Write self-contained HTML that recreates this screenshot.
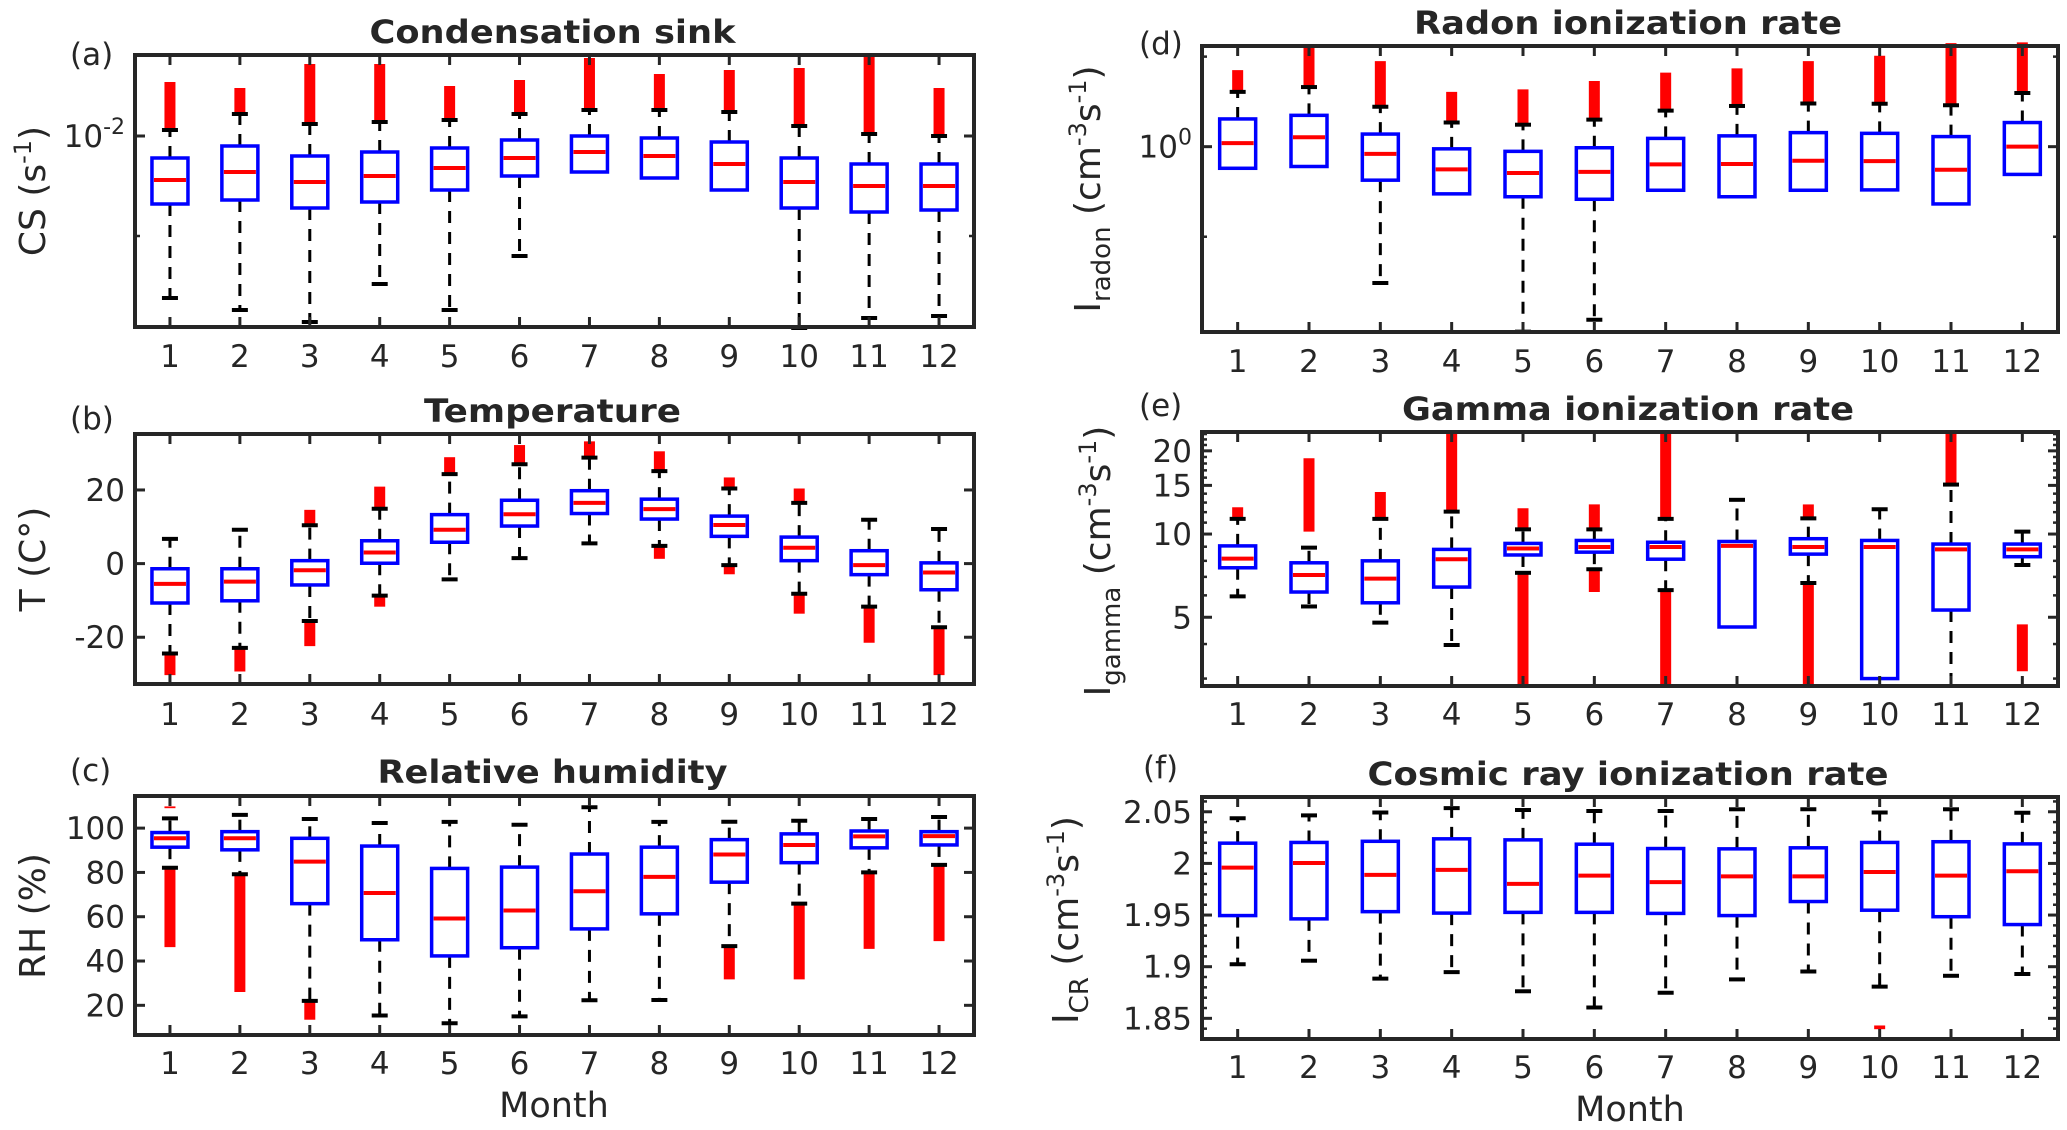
<!DOCTYPE html>
<html><head><meta charset="utf-8"><style>
html,body{margin:0;padding:0;background:#fff;}
svg{display:block;}
text{font-family:"DejaVu Sans","Liberation Sans",sans-serif;fill:#262626;}
</style></head>
<body>
<svg id="fig" width="2067" height="1130" viewBox="0 0 2067 1130" xmlns="http://www.w3.org/2000/svg"></svg>
<script>
const months = [1,2,3,4,5,6,7,8,9,10,11,12];
// (a) Condensation sink, log10(CS)
const csLo  = [-2.81,-2.87,-2.93,-2.74,-2.87,-2.60,-2.18,-2.21,-2.27,-2.96,-2.91,-2.90];
const csQ1  = [-2.34,-2.32,-2.36,-2.33,-2.27,-2.20,-2.18,-2.21,-2.27,-2.36,-2.38,-2.37];
const csMed = [-2.22,-2.18,-2.23,-2.20,-2.16,-2.11,-2.08,-2.10,-2.14,-2.23,-2.25,-2.25];
const csQ3  = [-2.11,-2.05,-2.10,-2.08,-2.06,-2.02,-2.00,-2.01,-2.03,-2.11,-2.14,-2.14];
const csHi  = [-1.97,-1.89,-1.94,-1.93,-1.92,-1.89,-1.87,-1.87,-1.88,-1.95,-1.99,-2.00];
const csOutHi = [[-1.97,-1.73],[-1.89,-1.76],[-1.94,-1.64],[-1.93,-1.64],[-1.92,-1.75],[-1.89,-1.72],[-1.87,-1.61],[-1.87,-1.69],[-1.88,-1.67],[-1.95,-1.66],[-1.99,-1.59],[-2.00,-1.76]];
const csOutLo = [null,null,null,null,null,null,null,null,null,null,null,null];
// (b) Temperature
const tLo  = [-24.4,-22.9,-15.6,-8.7,-4.3,1.5,5.5,4.8,-0.4,-8.2,-11.7,-17.3];
const tQ1  = [-10.7,-10.1,-5.8,0.1,5.8,10.2,13.6,12.1,7.4,0.8,-3.0,-7.1];
const tMed = [-5.5,-4.9,-1.8,3.0,9.2,13.4,16.5,14.8,10.5,4.3,-0.4,-2.4];
const tQ3  = [-1.4,-1.4,0.8,6.2,13.3,17.2,19.8,17.5,12.9,7.2,3.5,0.2];
const tHi  = [6.7,9.2,10.4,14.9,24.3,27.0,28.8,25.1,20.4,16.5,11.9,9.4];
const tOutHi = [null,null,[10.4,14.6],[14.9,20.9],[24.3,28.9],[27.0,32.2],[28.8,33.2],[25.1,30.5],[20.4,23.4],[16.5,20.4],null,null];
const tOutLo = [[-24.4,-30.3],[-22.9,-29.3],[-15.6,-22.4],[-8.7,-11.7],null,null,null,[4.8,1.3],[-0.4,-2.9],[-8.2,-13.6],[-11.7,-21.5],[-17.3,-30.3]];
// (c) Relative humidity
const rhLo  = [82.1,79.2,22.0,15.4,11.9,15.0,22.3,22.4,46.7,65.9,80.0,83.4];
const rhQ1  = [91.4,90.2,65.9,49.6,42.3,46.0,54.5,61.3,75.6,84.4,91.1,92.4];
const rhMed = [95.4,95.4,84.9,70.7,59.2,62.8,71.5,78.0,88.1,92.4,96.3,96.4];
const rhQ3  = [98.0,98.4,95.4,91.9,81.8,82.4,88.3,91.4,94.8,97.4,98.7,98.4];
const rhHi  = [104.4,106.0,104.1,102.3,102.8,101.5,109.4,102.8,102.9,103.3,104.1,105.0];
const rhOutHi = [[109.0,109.8],null,null,null,null,null,null,null,null,null,null,null];
const rhOutLo = [[82.1,46.3],[79.2,26.0],[22.0,13.5],null,null,null,null,null,[46.7,31.7],[65.9,31.7],[80.0,45.5],[83.4,49.0]];
// (d) Radon ionization rate, log10
const rnLo  = [-0.120,-0.110,-0.757,-0.262,-1.027,-0.961,-0.242,-0.278,-0.242,-0.240,-0.318,-0.154];
const rnQ1  = [-0.120,-0.110,-0.186,-0.262,-0.278,-0.292,-0.242,-0.278,-0.242,-0.240,-0.318,-0.154];
const rnMed = [0.020,0.052,-0.040,-0.126,-0.146,-0.140,-0.098,-0.096,-0.078,-0.080,-0.128,0.000];
const rnQ3  = [0.154,0.174,0.070,-0.012,-0.026,-0.006,0.046,0.060,0.078,0.074,0.056,0.134];
const rnHi  = [0.304,0.331,0.222,0.134,0.122,0.150,0.200,0.226,0.240,0.238,0.230,0.298];
const rnOutHi = [[0.304,0.425],[0.331,0.565],[0.222,0.475],[0.134,0.304],[0.122,0.318],[0.150,0.365],[0.200,0.411],[0.226,0.435],[0.240,0.475],[0.238,0.505],[0.230,0.575],[0.298,0.579]];
const rnOutLo = [null,null,null,null,null,null,null,null,null,null,null,null];
// (e) Gamma ionization rate (log axis)
const gaLo  = [5.95,5.47,4.78,3.97,7.24,7.46,6.27,4.61,6.65,3.0,2.82,7.73];
const gaQ1  = [7.55,6.17,5.64,6.43,8.4,8.6,8.11,4.61,8.46,3.0,5.31,8.28];
const gaMed = [8.15,7.11,6.9,8.11,8.87,8.98,8.98,9.06,8.98,8.98,8.8,8.8];
const gaQ3  = [9.06,7.87,8.0,8.8,9.25,9.48,9.34,9.4,9.62,9.48,9.2,9.2];
const gaHi  = [11.35,8.93,11.35,12.05,10.4,10.4,11.35,13.3,11.4,12.3,15.1,10.2];
const gaOutHi = [[11.35,12.5],[10.2,18.8],[11.35,14.2],[12.05,23.4],[10.4,12.4],[10.4,12.8],[11.35,23.4],null,[11.4,12.8],null,[15.1,23.4],null];
const gaOutLo = [null,null,null,null,[7.24,2.82],[7.46,6.17],[6.27,2.82],null,[6.65,2.82],null,null,[4.71,3.19]];
// (f) Cosmic ray ionization rate
const crLo  = [1.9024,1.9058,1.8884,1.8947,1.8762,1.8605,1.8748,1.8877,1.8954,1.8807,1.8912,1.8929];
const crQ1  = [1.9495,1.9463,1.9533,1.9519,1.9526,1.9526,1.9516,1.9495,1.9631,1.9547,1.9484,1.9408];
const crMed = [1.9959,2.0004,1.9889,1.9938,1.9802,1.9882,1.9819,1.9875,1.9875,1.9917,1.9882,1.9924];
const crQ3  = [2.0196,2.0203,2.0214,2.0238,2.0228,2.0186,2.0144,2.0141,2.0151,2.0203,2.0210,2.0189];
const crHi  = [2.0437,2.0465,2.0493,2.0535,2.0517,2.0507,2.0507,2.0524,2.0524,2.0493,2.0524,2.0490];
const crOutHi = [null,null,null,null,null,null,null,null,null,null,null,null];
const crOutLo = [null,null,null,null,null,null,null,null,null,[1.8395,1.8431],null,null];

const csTicks=[-2], csMinor=[-2.5];
const tTicks=[-20,0,20];
const rhTicks=[20,40,60,80,100];
const rnTicks=[0], rnMinor=[-0.5,0.5];
const gaTicks=[5,10,15,20], gaMinor=[3,4,6,7,8,9,11,12,13,14,16,17,18,19,21,22,23];
const crTicks=[1.85,1.9,1.95,2,2.05], crMinor=[1.84,1.86,1.87,1.88,1.89,1.91,1.92,1.93,1.94,1.96,1.97,1.98,1.99,2.01,2.02,2.03,2.04,2.06];

const NS="http://www.w3.org/2000/svg";
const svg=document.getElementById('fig');
function mk(tag,attrs,parent){const e=document.createElementNS(NS,tag);for(const k in attrs)e.setAttribute(k,attrs[k]);(parent||svg).appendChild(e);return e;}

function panel(p){
  const g=mk('g',{});
  
  
  const xs=m=>p.x0+(m-0.5)/12*(p.x1-p.x0);
  const tf=p.log?(v=>Math.log10(v)):(v=>v);
  const ys=v=>p.y1-(tf(v)-tf(p.dmin))/(tf(p.dmax)-tf(p.dmin))*(p.y1-p.y0);
  const bw=36, cw=16;
  months.forEach((m,i)=>{
    const x=xs(m);
    const bg=mk('g',{},g);
    
    
    const drawOut=(r)=>{ if(!r) return;
      const l=mk('line',{x1:x,x2:x,y1:ys(r[0]),y2:ys(r[1]),stroke:'#ff0000','stroke-width':11},bg);
      
      
    };
    drawOut(p.outHi[i]); drawOut(p.outLo[i]);
    if(p.hi[i]>p.q3[i]){
      const w=mk('line',{x1:x,x2:x,y1:ys(p.q3[i]),y2:ys(p.hi[i]),stroke:'#000','stroke-width':3,'stroke-dasharray':'12,9'},bg);
      
      
      const c=mk('line',{x1:x-cw/2,x2:x+cw/2,y1:ys(p.hi[i]),y2:ys(p.hi[i]),stroke:'#000','stroke-width':4},bg);
      
      
    }
    if(p.lo[i]<p.q1[i]){
      const w=mk('line',{x1:x,x2:x,y1:ys(p.q1[i]),y2:ys(p.lo[i]),stroke:'#000','stroke-width':3,'stroke-dasharray':'12,9'},bg);
      
      
      const c=mk('line',{x1:x-cw/2,x2:x+cw/2,y1:ys(p.lo[i]),y2:ys(p.lo[i]),stroke:'#000','stroke-width':4},bg);
      
      
    }
    const r=mk('rect',{x:x-bw/2,y:ys(p.q3[i]),width:bw,height:ys(p.q1[i])-ys(p.q3[i]),fill:'none',stroke:'#0000ff','stroke-width':3.5},bg);
    
    
    const md=mk('line',{x1:x-bw/2+2,x2:x+bw/2-2,y1:ys(p.med[i]),y2:ys(p.med[i]),stroke:'#ff0000','stroke-width':4},bg);
    
    
  });
  const tk='#262626';
  months.forEach(m=>{
    const x=xs(m);
    mk('line',{x1:x,x2:x,y1:p.y1,y2:p.y1-10,stroke:tk,'stroke-width':3},g);
    mk('line',{x1:x,x2:x,y1:p.y0,y2:p.y0+10,stroke:tk,'stroke-width':3},g);
    const t=mk('text',{x:x,y:p.xlabY,'font-size':31,'text-anchor':'middle'},g);
    t.textContent=m;
    
    
  });
  (p.minor||[]).forEach(v=>{
    const y=ys(v); if(y<p.y0||y>p.y1) return;
    mk('line',{x1:p.x0,x2:p.x0+5,y1:y,y2:y,stroke:tk,'stroke-width':2.5},g);
    mk('line',{x1:p.x1,x2:p.x1-5,y1:y,y2:y,stroke:tk,'stroke-width':2.5},g);
  });
  p.ticks.forEach((v,k)=>{
    const y=ys(v);
    mk('line',{x1:p.x0,x2:p.x0+10,y1:y,y2:y,stroke:tk,'stroke-width':3},g);
    mk('line',{x1:p.x1,x2:p.x1-10,y1:y,y2:y,stroke:tk,'stroke-width':3},g);
    const t=mk('text',{x:p.x0-10,y:y+11,'font-size':31,'text-anchor':'end'},g);
    
    
    if(p.tickFmt){t.innerHTML=p.tickFmt(v);} else t.textContent=String(v);
  });
  const fr=mk('rect',{x:p.x0,y:p.y0,width:p.x1-p.x0,height:p.y1-p.y0,fill:'none',stroke:'#262626','stroke-width':4},g);
  
  
  const ti=mk('text',{x:(p.x0+p.x1)/2-2,y:p.titleY,'font-size':32,'font-weight':'bold','text-anchor':'middle',textLength:p.titleW,lengthAdjust:'spacingAndGlyphs'},g);
  ti.textContent=p.title;
  
  
  const le=mk('text',{x:p.letX,y:p.letY,'font-size':31},g);
  le.textContent=p.letter;
  
  
  const yl=mk('text',{x:0,y:0,'font-size':36,'text-anchor':'middle',transform:`translate(${p.ylX},${p.ylY}) rotate(-90)`},g);
  yl.innerHTML=p.ylabel;
  
  
}
const L={x0:135,x1:974}, R={x0:1202,x1:2058};
const sup=(s)=>`<tspan dy="-14" font-size="24">${s}</tspan>`;
panel({name:'panel-a-condensation-sink',...L,y0:55,y1:327,dmin:-2.955,dmax:-1.595,lo:csLo,q1:csQ1,med:csMed,q3:csQ3,hi:csHi,outHi:csOutHi,outLo:csOutLo,ticks:csTicks,minor:csMinor,
  tickFmt:v=>`10<tspan dy="-13" font-size="22">${v}</tspan>`,xlabY:367,title:'Condensation sink',titleY:43,titleW:366,letter:'(a)',letX:70,letY:65,
  ylX:45,ylY:191,ylabel:`CS (s${sup('-1')}<tspan dy="14">)</tspan>`});
panel({name:'panel-b-temperature',...L,y0:434,y1:684,dmin:-32.7,dmax:35.2,lo:tLo,q1:tQ1,med:tMed,q3:tQ3,hi:tHi,outHi:tOutHi,outLo:tOutLo,ticks:tTicks,
  xlabY:725,title:'Temperature',titleY:422,titleW:257,letter:'(b)',letX:70,letY:429,ylX:45,ylY:559,ylabel:'T (C°)'});
panel({name:'panel-c-relative-humidity',...L,y0:796,y1:1035,dmin:6.6,dmax:114.5,lo:rhLo,q1:rhQ1,med:rhMed,q3:rhQ3,hi:rhHi,outHi:rhOutHi,outLo:rhOutLo,ticks:rhTicks,
  xlabY:1074,title:'Relative humidity',titleY:783,titleW:350,letter:'(c)',letX:70,letY:781,ylX:45,ylY:916,ylabel:'RH (%)'});
panel({name:'panel-d-radon',...R,y0:46,y1:332,dmin:-1.029,dmax:0.559,lo:rnLo,q1:rnQ1,med:rnMed,q3:rnQ3,hi:rnHi,outHi:rnOutHi,outLo:rnOutLo,ticks:rnTicks,minor:rnMinor,
  tickFmt:v=>`10<tspan dy="-13" font-size="22">${v}</tspan>`,xlabY:372,title:'Radon ionization rate',titleY:34,titleW:428,letter:'(d)',letX:1139,letY:54,
  ylX:1100,ylY:189,ylabel:`I<tspan dy="10" font-size="26">radon</tspan><tspan dy="-10"> (cm</tspan>${sup('-3')}<tspan dy="14">s</tspan>${sup('-1')}<tspan dy="14">)</tspan>`});
panel({name:'panel-e-gamma',...R,y0:432,y1:686,dmin:2.82,dmax:23.4,log:true,lo:gaLo,q1:gaQ1,med:gaMed,q3:gaQ3,hi:gaHi,outHi:gaOutHi,outLo:gaOutLo,ticks:gaTicks,minor:gaMinor,
  xlabY:725,title:'Gamma ionization rate',titleY:420,titleW:452,letter:'(e)',letX:1139,letY:416,
  ylX:1110,ylY:561,ylabel:`I<tspan dy="10" font-size="26">gamma</tspan><tspan dy="-10"> (cm</tspan>${sup('-3')}<tspan dy="14">s</tspan>${sup('-1')}<tspan dy="14">)</tspan>`});
panel({name:'panel-f-cosmic-ray',...R,y0:797,y1:1039,dmin:1.830,dmax:2.0643,lo:crLo,q1:crQ1,med:crMed,q3:crQ3,hi:crHi,outHi:crOutHi,outLo:crOutLo,ticks:crTicks,minor:crMinor,
  xlabY:1078,title:'Cosmic ray ionization rate',titleY:785,titleW:521,letter:'(f)',letX:1143,letY:778,
  ylX:1078,ylY:920,ylabel:`I<tspan dy="10" font-size="26">CR</tspan><tspan dy="-10"> (cm</tspan>${sup('-3')}<tspan dy="14">s</tspan>${sup('-1')}<tspan dy="14">)</tspan>`});
const m1=mk('text',{x:554,y:1117,'font-size':35,'text-anchor':'middle'});
m1.textContent='Month';


const m2=mk('text',{x:1630,y:1121,'font-size':35,'text-anchor':'middle'});
m2.textContent='Month';


</script>
</body></html>
